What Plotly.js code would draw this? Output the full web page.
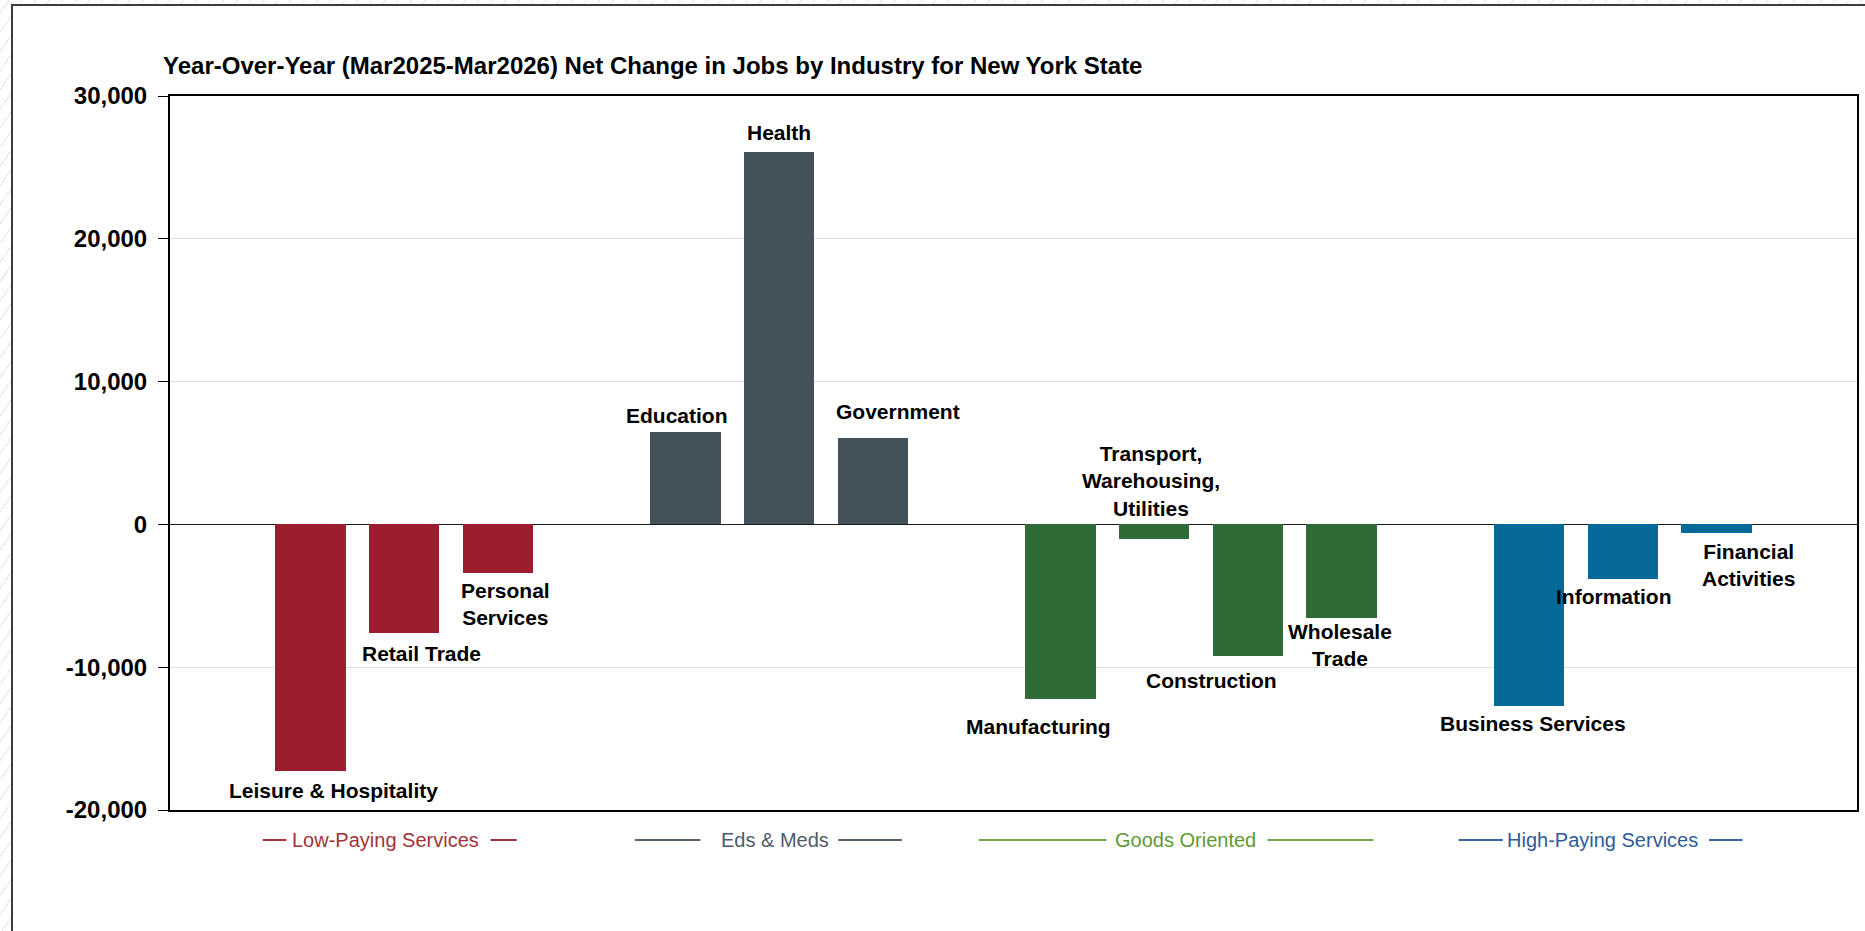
<!DOCTYPE html>
<html>
<head>
<meta charset="utf-8">
<script src="https://cdn.plot.ly/plotly-3.0.1.min.js"></script>
<style>
  html, body { margin: 0; padding: 0; width: 1865px; height: 931px; overflow: hidden; }
  body {
    background-color: #ffffff;
    background-image: repeating-linear-gradient(125deg, #ffffff 0px, #ffffff 7px, #e6e6e6 7px, #e6e6e6 8px, #ffffff 8px, #ffffff 11px);
  }
  #frame { position: absolute; left: 11px; top: 4px; width: 1870px; height: 940px; background: #ffffff; border: 2px solid #3c3c3c; box-sizing: border-box; }
  #chart { position: absolute; left: 0; top: 0; width: 1865px; height: 931px; }
</style>
</head>
<body>
<div id="frame"></div>
<div id="chart"></div>
<script>
// ---- Data ----
const lowPayingCats = ['Leisure & Hospitality', 'Retail Trade', 'Personal Services'];
const lowPayingVals = [-17250, -7580, -3420];

const edsMedsCats = ['Education', 'Health', 'Government'];
const edsMedsVals = [6500, 26080, 6080];

const goodsCats = ['Manufacturing', 'Transport, Warehousing, Utilities', 'Construction', 'Wholesale Trade'];
const goodsVals = [-12250, -1000, -9250, -6580];

const highPayingCats = ['Business Services', 'Information', 'Financial Activities'];
const highPayingVals = [-12750, -3830, -580];

const groupNames = ['Low-Paying Services', 'Eds & Meds', 'Goods Oriented', 'High-Paying Services'];
const yTickVals = [-20000, -10000, 0, 10000, 20000, 30000];
const yTickText = ['-20,000', '-10,000', '0', '10,000', '20,000', '30,000'];

// ---- Styling ----
const FONT = '"Liberation Sans", Arial, sans-serif';
const barColors = ['#9c1e2e', '#44525c', '#2e6b37', '#056a99'];
const legendTextColors = ['#a2333a', '#4d5b6b', '#5f9a33', '#2f5c99'];
const legendLineColors = ['#a2333a', '#55636f', '#77a448', '#3a67a4'];

// label display text (line breaks) and pixel offsets from bar end
const labelText = {
  'Personal Services': 'Personal<br>Services',
  'Transport, Warehousing, Utilities': 'Transport,<br>Warehousing,<br>Utilities',
  'Wholesale Trade': 'Wholesale<br>Trade',
  'Financial Activities': 'Financial<br>Activities'
};
const labelShift = {
  'Leisure & Hospitality': [23, -20],
  'Retail Trade': [17, -21],
  'Personal Services': [7, -31],
  'Education': [-8, 16],
  'Health': [0, 19],
  'Government': [25, 26],
  'Manufacturing': [-22, -27],
  'Transport, Warehousing, Utilities': [-3, 58],
  'Construction': [-36, -24],
  'Wholesale Trade': [-2, -27],
  'Business Services': [4, -17],
  'Information': [-9, -17],
  'Financial Activities': [32, -32]
};

const groups = [
  {cats: lowPayingCats, vals: lowPayingVals, start: 1},
  {cats: edsMedsCats, vals: edsMedsVals, start: 5},
  {cats: goodsCats, vals: goodsVals, start: 9},
  {cats: highPayingCats, vals: highPayingVals, start: 14}
];

const traces = [];
const annotations = [];
groups.forEach((g, gi) => {
  const xs = g.cats.map((c, i) => g.start + i);
  traces.push({
    type: 'bar', x: xs, y: g.vals, name: groupNames[gi],
    width: 0.75, marker: {color: barColors[gi]}, hoverinfo: 'y',
    showlegend: false
  });
  g.cats.forEach((c, i) => {
    const s = labelShift[c] || [0, 0];
    annotations.push({
      x: xs[i], y: g.vals[i], xref: 'x', yref: 'y',
      text: labelText[c] || c, showarrow: false,
      xanchor: 'center', yanchor: 'middle', align: 'center',
      xshift: s[0], yshift: s[1],
      font: {family: FONT, size: 21, color: '#000000', weight: 'bold'}
    });
  });
});

// Legend built under the plot: text centers and line extents in category units
const legendPos = [
  {text: 1.80, l1: [0.49, 0.74], l2: [2.92, 3.20]},
  {text: 5.96, l1: [4.46, 5.16], l2: [6.63, 7.31]},
  {text: 10.34, l1: [8.13, 9.49], l2: [11.21, 12.34]},
  {text: 14.78, l1: [13.25, 13.72], l2: [15.92, 16.28]}
];
const shapes = [];
const legY = -0.042;
legendPos.forEach((p, i) => {
  annotations.push({
    x: p.text, y: legY, xref: 'x', yref: 'paper', text: groupNames[i], showarrow: false,
    xanchor: 'center', yanchor: 'middle',
    font: {family: FONT, size: 20, color: legendTextColors[i]}
  });
  [p.l1, p.l2].forEach(l => shapes.push({
    type: 'line', xref: 'x', yref: 'paper', x0: l[0], x1: l[1], y0: legY, y1: legY,
    line: {color: legendLineColors[i], width: 2}
  }));
});

const layout = {
  width: 1865, height: 931,
  paper_bgcolor: 'rgba(0,0,0,0)', plot_bgcolor: '#ffffff',
  margin: {l: 170, r: 8, t: 96, b: 121, pad: 0},
  title: {
    text: 'Year-Over-Year (Mar2025-Mar2026) Net Change in Jobs by Industry for New York State',
    xref: 'container', yref: 'container', x: 0.0874, xanchor: 'left', y: 0.930, yanchor: 'middle',
    font: {family: FONT, size: 24, color: '#000000', weight: 'bold'}
  },
  xaxis: {
    range: [-0.5, 17.5], showticklabels: false, ticks: '', showgrid: false, zeroline: false,
    showline: true, linecolor: '#000000', linewidth: 2, mirror: true, fixedrange: true
  },
  yaxis: {
    range: [-20000, 30000], tickvals: yTickVals, ticktext: yTickText,
    ticks: 'outside', ticklen: 10, tickwidth: 1, tickcolor: '#000000', ticklabelstandoff: 6,
    tickfont: {family: FONT, size: 24, color: '#000000', weight: 'bold'},
    showgrid: true, gridcolor: '#e0e0e0', gridwidth: 1,
    zeroline: true, zerolinecolor: '#1a1a1a', zerolinewidth: 1.5,
    showline: true, linecolor: '#000000', linewidth: 2, mirror: true, fixedrange: true
  },
  bargap: 0,
  annotations: annotations,
  shapes: shapes,
  showlegend: false
};

Plotly.newPlot('chart', traces, layout, {displayModeBar: false, staticPlot: true});
</script>
</body>
</html>
